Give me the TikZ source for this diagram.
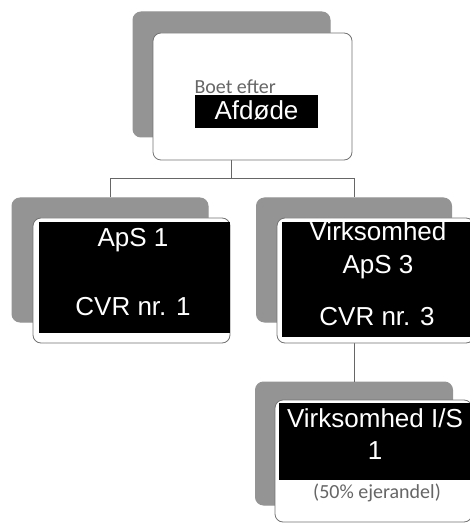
\documentclass[tikz,border=0pt]{standalone}
\usepackage{fontspec}
\setmainfont{Liberation Sans}
\newfontfamily\calibri{Carlito}

\tikzset{every picture/.style={line width=0.75pt}}
\tikzset{
  shadowbox/.style={fill=black!42, draw=black!42, rounded corners=6pt, inner sep=0pt},
  whitebox/.style={fill=white, draw=black!55, line width=0.6pt, rounded corners=6pt, inner sep=0pt},
  blackbox/.style={fill=black, draw=none, inner sep=0pt},
  conn/.style={draw=black!60, line width=0.6pt},
  wtxt/.style={text=white, font=\fontsize{19.5}{25}\selectfont, align=center, inner sep=0pt},
  gtxt/.style={text=black!60, font=\calibri\fontsize{15}{18}\selectfont, inner sep=0pt}
}

\begin{document}
\begin{tikzpicture}[x=0.75pt,y=0.75pt,yscale=-1,xscale=1]
\useasboundingbox (0,0) rectangle (469,523);

%Shapes: shadow boxes
\node[shadowbox, minimum width=147.75pt, minimum height=93.75pt] (boetsh) at (231.5,74.5) {};
\node[shadowbox, minimum width=147pt, minimum height=93pt] (aps1sh) at (110,260) {};
\node[shadowbox, minimum width=146.25pt, minimum height=93pt] (aps3sh) at (354,260) {};
\node[shadowbox, minimum width=147.75pt, minimum height=92.25pt] (issh) at (354,443.5) {};

%Straight Lines: connectors
\draw[conn] (boetsh.south) -- ++(0,41) -| (aps1sh.north);
\draw[conn] (boetsh.south) -- ++(0,41) -| (aps3sh.north);
\draw[conn] (aps3sh.south) -- (issh.north);

%Shapes: white boxes
\node[whitebox, minimum width=149.25pt, minimum height=95.25pt] (boet) at (252.5,96.5) {};
\node[whitebox, minimum width=147.75pt, minimum height=93.75pt] (aps1) at (131.5,280.5) {};
\node[whitebox, minimum width=147.75pt, minimum height=93.75pt] (aps3) at (375.5,280.5) {};
\node[whitebox, minimum width=147.75pt, minimum height=91.5pt] (is) at (373.5,461) {};

%Shapes: black fills
\node[blackbox, minimum width=92.25pt, minimum height=24.75pt] (afdbg) at (256.5,111.5) {};
\node[blackbox, minimum width=143.25pt, minimum height=83.25pt] (aps1bg) at (134.5,277.5) {};
\node[blackbox, minimum width=144pt, minimum height=86.25pt] (aps3bg) at (378,279.5) {};
\node[blackbox, minimum width=146.25pt, minimum height=57.75pt] (isbg) at (376.5,441.5) {};

% Text Node
\node[gtxt, anchor=west] (boettxt) at (194,87) {Boet efter};
% Text Node
\node[wtxt] (afdtxt) at (256.5,110) {Afdøde};
% Text Node
\node[wtxt] (aps1txt) at (133,240) {ApS 1};
% Text Node
\node[wtxt] (cvr1txt) at (133,307) {CVR nr. 1};
% Text Node
\node[wtxt] (aps3txt) at (378,250) {Virksomhed\\ApS 3};
% Text Node
\node[wtxt] (cvr3txt) at (377,317) {CVR nr. 3};
% Text Node
\node[wtxt, font=\fontsize{19.5}{24}\selectfont] (istxt) at (375,434) {Virksomhed I/S\\1};
% Text Node
\node[gtxt] (andeltxt) at (377,493) {(50\% ejerandel)};

\end{tikzpicture}
\end{document}
